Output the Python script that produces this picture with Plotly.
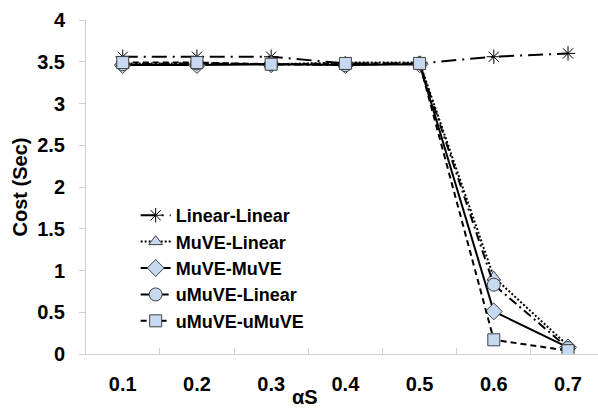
import plotly.graph_objects as go

x_vals = [0.1, 0.2, 0.3, 0.4, 0.5, 0.6, 0.7]
x_labels = ["0.1", "0.2", "0.3", "0.4", "0.5", "0.6", "0.7"]
y_ticks = [0, 0.5, 1, 1.5, 2, 2.5, 3, 3.5, 4]
y_labels = ["0", "0.5", "1", "1.5", "2", "2.5", "3", "3.5", "4"]

linear_linear = [3.56, 3.56, 3.56, 3.48, 3.48, 3.56, 3.60]
muve_linear = [3.48, 3.48, 3.47, 3.49, 3.49, 0.92, 0.10]
muve_muve = [3.46, 3.46, 3.47, 3.46, 3.47, 0.51, 0.08]
umuve_linear = [3.47, 3.48, 3.47, 3.46, 3.48, 0.83, 0.07]
umuve_umuve = [3.49, 3.49, 3.47, 3.48, 3.48, 0.17, 0.04]

series = [
    ("Linear-Linear", linear_linear, "15px,6px,2px,6px", "asterisk-open", 12),
    ("MuVE-Linear", muve_linear, "2px,2px", "triangle-up", 12),
    ("MuVE-MuVE", muve_muve, "solid", "diamond", 13),
    ("uMuVE-Linear", umuve_linear, "9px,4px,2px,4px", "circle", 13),
    ("uMuVE-uMuVE", umuve_umuve, "6px,4px", "square", 12),
]

fill = "#c6d9f0"
edge = "#404040"
FONT = "Liberation Sans, Arial, sans-serif"

fig = go.Figure()
for name, vals, dash, sym, size in series:
    if sym == "asterisk-open":
        marker = dict(symbol=sym, size=size, color="black", line=dict(color="black", width=1))
    else:
        marker = dict(symbol=sym, size=size, color=fill, line=dict(color=edge, width=1))
    fig.add_trace(go.Scatter(
        x=x_vals, y=vals, name=name, mode="lines+markers",
        line=dict(color="black", width=2, dash=dash),
        marker=marker,
    ))

fig.update_layout(
    width=598, height=408,
    margin=dict(l=86, r=0, t=20, b=54),
    paper_bgcolor="white", plot_bgcolor="white",
    font=dict(family=FONT, size=20, color="black"),
    showlegend=True,
    legend=dict(
        x=0.097, y=0.47, xanchor="left", yanchor="top",
        bgcolor="rgba(0,0,0,0)",
        font=dict(size=18, family=FONT, weight="bold"),
        itemwidth=30, tracegroupgap=0,
    ),
    annotations=[dict(
        text="<b>αS</b>", x=(305 - 86) / 512, xref="paper", y=-0.13, yref="paper",
        xanchor="center", yanchor="middle", showarrow=False,
        font=dict(size=20),
    )],
)

fig.update_xaxes(
    range=[0.0505, 0.7404],
    tickvals=x_vals, ticktext=["<b>%s</b>" % t for t in x_labels],
    ticks="", showgrid=False, zeroline=False,
    showline=True, linecolor="#d0d0d0", linewidth=1,
    ticklabelstandoff=12,
    minor=dict(tickvals=[0.15, 0.25, 0.35, 0.45, 0.55, 0.65], ticks="inside",
               ticklen=6, tickcolor="#d0d0d0", showgrid=False),
)
fig.update_yaxes(
    range=[0, 4], tickvals=y_ticks,
    ticktext=["<b>%s</b>" % t for t in y_labels],
    ticks="outside", ticklen=6, tickcolor="#d0d0d0",
    ticklabelstandoff=10,
    showgrid=False, zeroline=False,
    showline=True, linecolor="#d0d0d0", linewidth=1,
    title=dict(text="<b>Cost (Sec)</b>", standoff=4, font=dict(size=20)),
)

fig.write_html("out.html")
